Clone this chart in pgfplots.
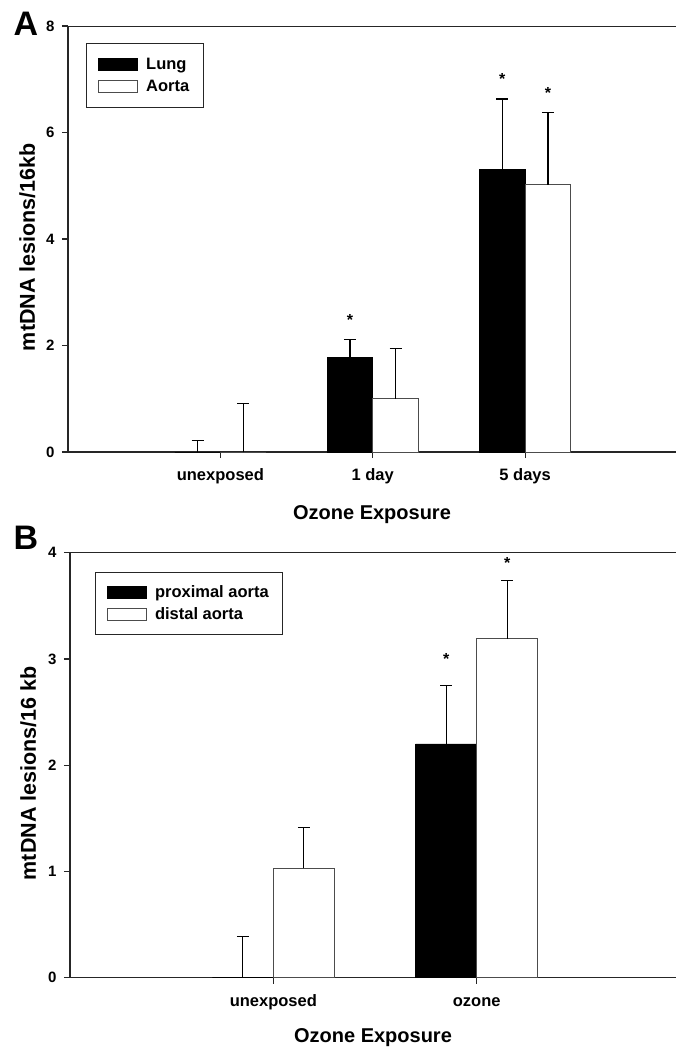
\documentclass[border=0pt]{standalone}
\usepackage{fontspec}
\setmainfont{Liberation Sans}
\usepackage{pgfplots}
\pgfplotsset{compat=1.18}
\newcommand\fs[1]{\fontsize{#1bp}{#1bp}\selectfont\bfseries}
\pgfplotsset{
  panel/.style={
    scale only axis,
    axis y line*=left, axis x line*=bottom,
    tick align=outside,
    major tick length=6bp,
    axis line style={line width=1.2bp, black!85},
    every tick/.style={line width=1.2bp, black!85},
    ymin=0, xmin=0,
    /pgf/number format/assume math mode=true,
    xticklabel style={font=\fs{16.5}, text height=12bp, text depth=3.5bp, yshift=-7bp},
    yticklabel style={font=\fs{15}, xshift=-4bp},
    xlabel style={font=\fs{20}, at={(axis description cs:0.5,-0.148)}, anchor=center},
    ylabel style={font=\fs{21.5}, at={(axis description cs:-0.067,0.481)}, anchor=center, rotate=0},
    ybar=0pt,
    legend cell align=left,
    legend style={anchor=north west, draw=black!85, line width=0.8bp, font=\fs{16.5},
      inner xsep=12bp, inner ysep=12.5bp, row sep=5bp, column sep=6bp},
    legend image code/.code={\draw[##1, line width=0.8bp] (0bp,-6bp) rectangle (39bp,6bp);},
    error bars/y dir=plus, error bars/y explicit,
    error bars/error bar style={line width=1.2bp, black},
    error bars/error mark options={rotate=90, mark size=6bp, line width=1.2bp, black},
  },
  darkbar/.style={fill=black, draw=black, line width=0.6bp},
  lightbar/.style={fill=white, draw=black!70, line width=0.8bp},
}
\begin{document}
\begin{tikzpicture}
\useasboundingbox (0bp,0bp) rectangle (676bp,-1047bp);
% Panel A
\begin{axis}[panel,
  at={(68bp,-452bp)}, anchor=south west,
  width=608bp, height=426bp,
  xmax=3.99, ymax=8,
  ytick={0,2,4,6,8},
  xtick={1,2,3}, xticklabels={unexposed,1 day,5 days},
  bar width=45.6bp,
  xlabel={Ozone Exposure},
  ylabel={mtDNA lesions/16kb},
  legend style={at={(axis description cs:0.0296,0.960)}},
]
\addplot[darkbar] coordinates {(1,0) +- (0,0.22) (2,1.78) +- (0,0.34) (3,5.30) +- (0,1.33)};
\addplot[lightbar] coordinates {(1,0) +- (0,0.91) (2,1.00) +- (0,0.95) (3,5.02) +- (0,1.35)};
\legend{Lung,Aorta}
\draw[line width=1.2bp, black!85] (rel axis cs:0,1) -- (rel axis cs:1,1);
\node[font=\fs{16}] at (axis cs:1.85,2.48) {*};
\node[font=\fs{16}] at (axis cs:2.85,7.00) {*};
\node[font=\fs{16}] at (axis cs:3.15,6.74) {*};
\end{axis}
\node[font=\fs{34}] at (26bp,-24bp) {A};
% Panel B
\begin{axis}[panel,
  at={(70bp,-977.7bp)}, anchor=south west,
  width=606bp, height=425bp,
  xmax=2.98, ymax=4,
  ytick={0,1,2,3,4},
  xtick={1,2}, xticklabels={unexposed,ozone},
  bar width=61bp,
  xlabel={Ozone Exposure},
  ylabel={mtDNA lesions/16 kb},
  xlabel style={at={(axis description cs:0.5,-0.141)}},
  ylabel style={at={(axis description cs:-0.069,0.481)}},
  legend style={at={(axis description cs:0.041,0.955)}, inner ysep=11bp},
]
\addplot[darkbar] coordinates {(1,0) +- (0,0.39) (2,2.20) +- (0,0.55)};
\addplot[lightbar] coordinates {(1,1.03) +- (0,0.385) (2,3.19) +- (0,0.545)};
\legend{proximal aorta,distal aorta}
\draw[line width=1.2bp, black!85] (rel axis cs:0,1) -- (rel axis cs:1,1);
\node[font=\fs{16}] at (axis cs:1.85,3.00) {*};
\node[font=\fs{16}] at (axis cs:2.15,3.90) {*};
\end{axis}
\node[font=\fs{34}] at (26bp,-538bp) {B};
\end{tikzpicture}
\end{document}
